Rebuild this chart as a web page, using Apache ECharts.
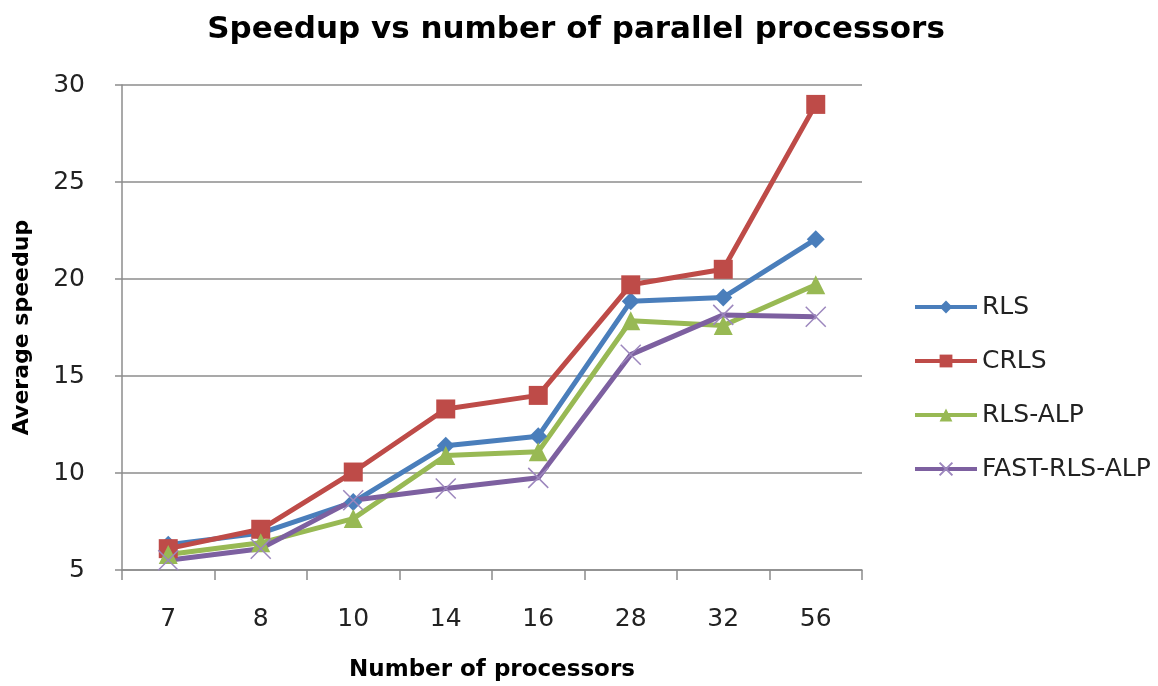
<!DOCTYPE html>
<html>
<head>
<meta charset="utf-8">
<script src="https://cdn.jsdelivr.net/npm/echarts@6/dist/echarts.min.js"></script>
<style>
  html, body { margin: 0; padding: 0; background: #fff; }
  #speedup { width: 1158px; height: 686px; }
</style>
</head>
<body>
<div id="speedup"></div>
<script>
  var processors = ['7', '8', '10', '14', '16', '28', '32', '56']
  var seriesNames = ['RLS', 'CRLS', 'RLS-ALP', 'FAST-RLS-ALP']
  var rls = [6.3, 6.9, 8.5, 11.4, 11.9, 18.85, 19.05, 22.05]
  var crls = [6.1, 7.1, 10.05, 13.3, 14.0, 19.7, 20.5, 29.0]
  var rlsAlp = [5.8, 6.4, 7.65, 10.9, 11.1, 17.85, 17.6, 19.7]
  var fastRlsAlp = [5.5, 6.1, 8.6, 9.2, 9.75, 16.1, 18.15, 18.05]

  var font = '"DejaVu Sans", sans-serif'
  var gridColor = '#8c8c8c'

  var chart = echarts.init(document.getElementById('speedup'))
  var option = {
    color: ['#4a7ebb', '#be4b48', '#98b954', '#7d60a0'],
    animation: false,
    textStyle: { fontFamily: font },
    title: {
      text: 'Speedup vs number of parallel processors',
      left: 571,
      textAlign: 'center',
      top: 9,
      textStyle: { fontSize: 31, fontWeight: 'bold', color: '#000', fontFamily: font }
    },
    legend: {
      orient: 'vertical',
      left: 908,
      top: 289,
      itemGap: 28,
      itemWidth: 62,
      itemHeight: 16,
      data: seriesNames,
      lineStyle: { width: 4 },
      textStyle: { fontSize: 25, lineHeight: 26, color: '#222', fontFamily: font }
    },
    grid: {
      left: 122,
      right: 296,
      top: 85,
      bottom: 116,
      outerBoundsMode: 'none'
    },
    xAxis: {
      type: 'category',
      data: processors,
      boundaryGap: true,
      name: 'Number of processors',
      nameLocation: 'middle',
      nameGap: 89,
      nameTextStyle: { fontSize: 23, fontWeight: 'bold', color: '#000' },
      axisLine: { lineStyle: { color: gridColor, width: 1.5 } },
      axisTick: { show: true, length: 10, alignWithLabel: false, lineStyle: { color: gridColor, width: 1.5 } },
      axisLabel: { fontSize: 25, color: '#222', margin: 37 }
    },
    yAxis: {
      type: 'value',
      min: 5,
      max: 30,
      interval: 5,
      name: 'Average speedup',
      nameLocation: 'middle',
      nameRotate: 90,
      nameGap: 89,
      nameTextStyle: { fontSize: 22, fontWeight: 'bold', color: '#000' },
      axisLine: { show: true, lineStyle: { color: gridColor, width: 1.5 } },
      axisTick: { show: true, length: 7, lineStyle: { color: gridColor, width: 1.5 } },
      axisLabel: { fontSize: 25, color: '#222', margin: 37 },
      splitLine: { lineStyle: { color: gridColor, width: 1.5 } }
    },
    series: [{
      name: seriesNames[0],
      type: 'line',
      data: rls,
      symbol: 'diamond',
      symbolSize: 18,
      lineStyle: { width: 5 }
    }, {
      name: seriesNames[1],
      type: 'line',
      data: crls,
      symbol: 'rect',
      symbolSize: 19,
      lineStyle: { width: 5 }
    }, {
      name: seriesNames[2],
      type: 'line',
      data: rlsAlp,
      symbol: 'triangle',
      symbolSize: 19,
      lineStyle: { width: 5 }
    }, {
      name: seriesNames[3],
      type: 'line',
      data: fastRlsAlp,
      symbol: 'path://M0,0L10,10M10,0L0,10',
      symbolSize: 20,
      itemStyle: { borderColor: '#9c86bd', borderWidth: 1.5 },
      lineStyle: { width: 5 }
    }]
  }
  chart.setOption(option)
  window.addEventListener('resize', () => {
    chart.resize()
  })
</script>
</body>
</html>
